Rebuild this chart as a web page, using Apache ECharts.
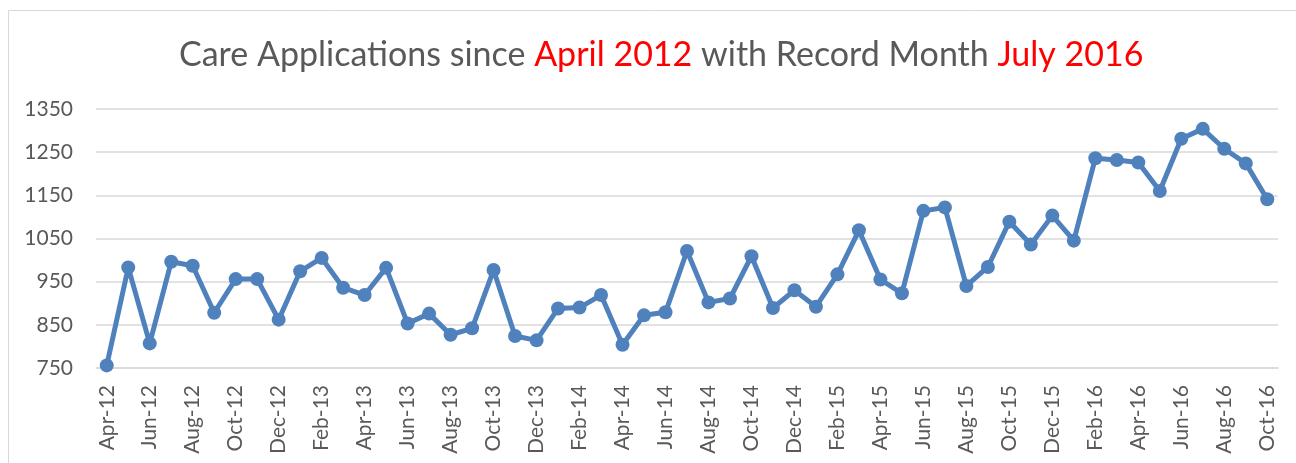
<!DOCTYPE html>
<html>
<head>
<meta charset="utf-8">
<script src="https://cdn.jsdelivr.net/npm/echarts@6/dist/echarts.min.js"></script>
<style>
    html, body { margin: 0; padding: 0; background: #fff; }
    #chart { width: 1296px; height: 463px; }
</style>
</head>
<body>
<div id="chart"></div>
<script>
// months Apr-12 .. Oct-16
var months = [
    'Apr-12', 'May-12', 'Jun-12', 'Jul-12', 'Aug-12', 'Sep-12', 'Oct-12', 'Nov-12', 'Dec-12',
    'Jan-13', 'Feb-13', 'Mar-13', 'Apr-13', 'May-13', 'Jun-13', 'Jul-13', 'Aug-13', 'Sep-13', 'Oct-13', 'Nov-13', 'Dec-13',
    'Jan-14', 'Feb-14', 'Mar-14', 'Apr-14', 'May-14', 'Jun-14', 'Jul-14', 'Aug-14', 'Sep-14', 'Oct-14', 'Nov-14', 'Dec-14',
    'Jan-15', 'Feb-15', 'Mar-15', 'Apr-15', 'May-15', 'Jun-15', 'Jul-15', 'Aug-15', 'Sep-15', 'Oct-15', 'Nov-15', 'Dec-15',
    'Jan-16', 'Feb-16', 'Mar-16', 'Apr-16', 'May-16', 'Jun-16', 'Jul-16', 'Aug-16', 'Sep-16', 'Oct-16'
];

var applications = [
    756, 983, 807, 996, 987, 878, 956, 956, 862,
    974, 1005, 936, 919, 982, 853, 876, 827, 842, 977, 824, 814,
    888, 890, 919, 804, 872, 879, 1021, 902, 911, 1009, 889,
    930, 892, 967, 1069, 955, 923, 1114, 1122, 940, 984, 1089,
    1036, 1103, 1045, 1236, 1232, 1226, 1160, 1281, 1304, 1258, 1224, 1141
];

var yTicks = { min: 750, max: 1350, step: 100 };

var grey = '#595959';
var font = 'Lato, "Liberation Sans", sans-serif';

var chart = echarts.init(document.getElementById('chart'));

chart.setOption({
    animation: false,
    title: {
        text: '{a|Care Applications since }{r|April 2012}{a| with Record Month }{r|July 2016}',
        left: 174,
        top: 33,
        textStyle: {
            rich: {
                a: { fontFamily: font, fontSize: 34, fontWeight: 'normal', color: grey },
                r: { fontFamily: font, fontSize: 34, fontWeight: 'normal', color: '#ff0000' }
            }
        }
    },
    graphic: [{
        type: 'rect',
        shape: { x: 8.5, y: 10.5, width: 1300, height: 480 },
        style: { fill: 'none', stroke: '#d9d9d9', lineWidth: 1 },
        silent: true
    }],
    grid: { left: 96, right: 18, top: 109, bottom: 95 },
    xAxis: {
        type: 'category',
        data: months,
        boundaryGap: true,
        axisLine: { lineStyle: { color: '#d9d9d9', width: 1.5 } },
        axisTick: { interval: 1, length: 6, lineStyle: { color: '#d9d9d9', width: 1.5 } },
        axisLabel: {
            interval: 1,
            rotate: 90,
            margin: 17,
            color: grey,
            fontFamily: font,
            fontSize: 21
        }
    },
    yAxis: {
        type: 'value',
        min: yTicks.min,
        max: yTicks.max,
        interval: yTicks.step,
        axisLine: { show: false },
        axisTick: { show: false },
        axisLabel: {
            color: grey,
            fontFamily: font,
            fontSize: 21,
            margin: 23,
            formatter: function (v) { return String(v); }
        },
        splitLine: { lineStyle: { color: '#d9d9d9', width: 1.5 } }
    },
    series: [{
        type: 'line',
        data: applications,
        symbol: 'circle',
        symbolSize: 14,
        lineStyle: { color: '#4f81bd', width: 5 },
        itemStyle: { color: '#4f81bd' }
    }]
});
</script>
</body>
</html>
